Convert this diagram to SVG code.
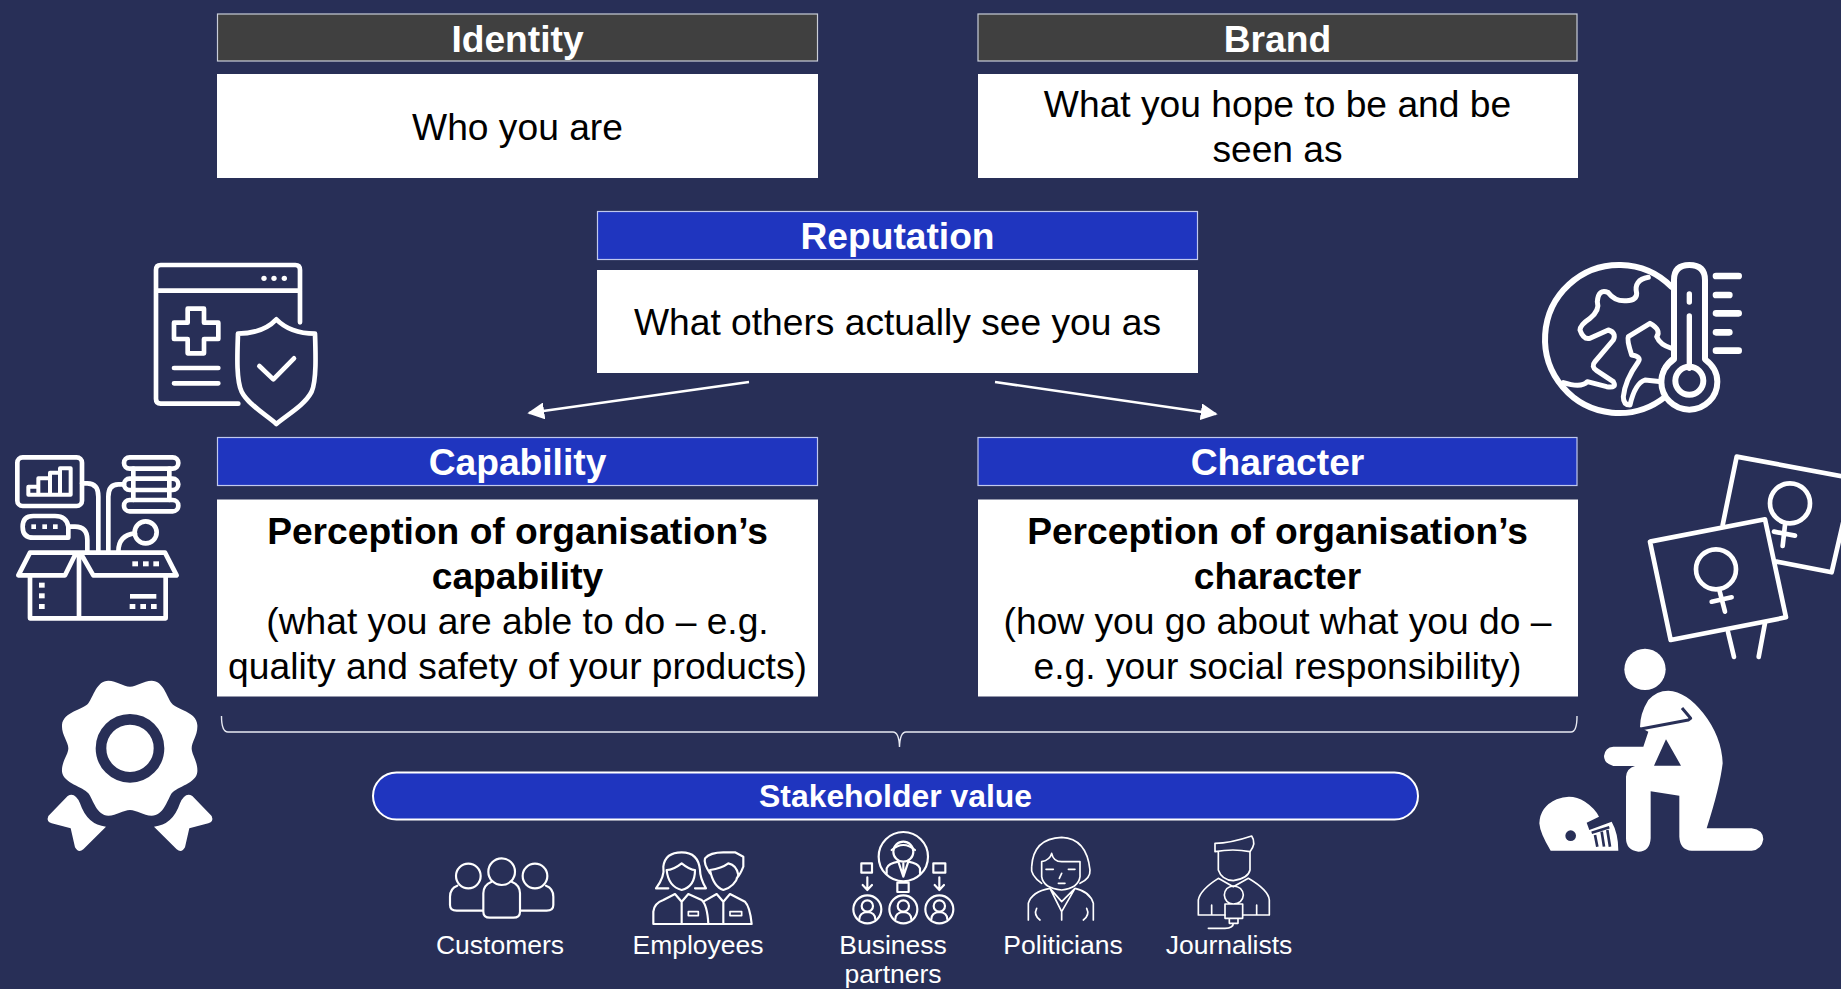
<svg xmlns="http://www.w3.org/2000/svg" width="1841" height="989" viewBox="0 0 1841 989">
<defs>
<style>
text{font-family:"Liberation Sans",Arial,sans-serif;text-anchor:middle}
.hd{font-size:37.200px;font-weight:700;fill:#fff}
.bd{font-size:37.200px;fill:#000}
.bb{font-size:37.200px;fill:#000;font-weight:700}
.lb{font-size:26.500px;fill:#fff}
.grey{fill:#404040;stroke:#c9cdd8;stroke-width:1.2}
.blue{fill:#1f35bf;stroke:#c0c8ee;stroke-width:1.2}
.wh{fill:#fff}
.ol{fill:none;stroke:#fff;stroke-linecap:round;stroke-linejoin:round}
.w14{stroke-width:14}
.w7{stroke-width:6.500}
.w5{stroke-width:5}
.fw{fill:#fff}
.fd{fill:#282f57}
</style>
<marker id="ah" viewBox="0 0 10 10" refX="9" refY="5" markerWidth="6.500" markerHeight="6.500" orient="auto"><path d="M0 0L10 5L0 10Z" fill="#fff"/></marker>
</defs>
<rect width="1841" height="989" fill="#282f57"/>

<g id="connectors">
<path d="M749 382L529 413" fill="none" stroke="#fff" stroke-width="2.600" marker-end="url(#ah)"/>
<path d="M995 382L1216 414" fill="none" stroke="#fff" stroke-width="2.600" marker-end="url(#ah)"/>
<path d="M221.500 716Q221.500 732 228 732H893Q899 732 899.500 747Q900 732 906 732H1571Q1577 732 1577 716" fill="none" stroke="#e8eaf2" stroke-width="1.400"/>
</g>

<g id="identity"><rect class="grey" x="217.500" y="14" width="600" height="47"/><text class="hd" x="517.500" y="52">Identity</text>
<rect class="wh" x="217" y="74" width="601" height="104"/><text class="bd" x="517.500" y="140">Who you are</text></g>
<g id="brand"><rect class="grey" x="978" y="14" width="599" height="47"/><text class="hd" x="1277.500" y="52">Brand</text>
<rect class="wh" x="978" y="74" width="600" height="104"/><text class="bd" x="1277.500" y="117">What you hope to be and be</text><text class="bd" x="1277.500" y="162">seen as</text></g>
<g id="reputation"><rect class="blue" x="597.500" y="211.500" width="600" height="48"/><text class="hd" x="897.500" y="249">Reputation</text>
<rect class="wh" x="597" y="270" width="601" height="103"/><text class="bd" x="897.500" y="335">What others actually see you as</text></g>
<g id="capability"><rect class="blue" x="217.500" y="437.500" width="600" height="48"/><text class="hd" x="517.500" y="475">Capability</text>
<rect class="wh" x="217" y="499.500" width="601" height="197"/>
<text class="bb" x="517.500" y="544">Perception of organisation’s</text><text class="bb" x="517.500" y="589">capability</text><text class="bd" x="517.500" y="634">(what you are able to do – e.g.</text><text class="bd" x="517.500" y="679">quality and safety of your products)</text></g>
<g id="character"><rect class="blue" x="978" y="437.500" width="599" height="48"/><text class="hd" x="1277.500" y="475">Character</text>
<rect class="wh" x="978" y="499.500" width="600" height="197"/>
<text class="bb" x="1277.500" y="544">Perception of organisation’s</text><text class="bb" x="1277.500" y="589">character</text><text class="bd" x="1277.500" y="634">(how you go about what you do –</text><text class="bd" x="1277.500" y="679">e.g. your social responsibility)</text></g>
<g id="stakeholder-value"><rect x="373" y="772.500" width="1045" height="47" rx="23.500" fill="#1f35bf" stroke="#fff" stroke-width="2"/><text x="895.500" y="807" style="font-size:31.900px;font-weight:700;fill:#fff">Stakeholder value</text></g>

<g id="icon-medical" transform="translate(0 240) scale(.33333)">
<path class="ol w14" d="M715 491H482Q468 491 468 477V90Q468 75 482 75H886Q900 75 900 90V247M468 152H900M522 384H655M522 430H655"/>
<circle class="fw" cx="792" cy="115" r="8"/><circle class="fw" cx="822" cy="115" r="8"/><circle class="fw" cx="853" cy="115" r="8"/>
<path class="ol w14" d="M563 206H612V248H655V297H612V340H563V297H522V248H563Z"/>
<path class="ol w14" d="M829 238Q790 280 714 281C712 340 708 420 725 455C745 495 800 525 829 552C860 525 915 495 935 455C950 420 947 340 945 281Q870 280 829 238Z"/>
<path class="ol w14" d="M778 378L820 418L882 355"/>
</g>

<g id="icon-box" transform="translate(0 240) scale(.33333)">
<rect class="ol w14" x="52" y="652" width="194" height="146" rx="16"/>
<path class="ol" stroke-width="12" d="M85 764V740H115V715H150V698H180V685H212V764ZM115 740V764M150 715V764M180 698V764"/>
<rect class="ol w14" x="372" y="652" width="163" height="34" rx="17"/><rect class="ol w14" x="372" y="716" width="163" height="34" rx="17"/><rect class="ol w14" x="372" y="780" width="163" height="34" rx="17"/>
<path class="ol w14" d="M400 686V780M508 686V780M246 730H262Q295 730 295 770V935M372 733H355Q325 733 325 770V935"/>
<path class="ol w14" d="M205 893H100Q68 893 68 860Q68 828 100 828H165Q200 828 205 860H225Q262 860 262 900V935M205 860V893"/>
<circle class="ol w14" cx="437" cy="877" r="33"/><path class="ol w14" d="M405 880Q355 885 355 935"/>
<path class="ol w14" d="M90 938H495L530 1006H280L245 945L237 938L225 945L195 1006H55ZM237 945V1133M90 1006V1135H497V1006"/>
<g class="fw"><rect x="397" y="964" width="17" height="15"/><rect x="429" y="964" width="17" height="15"/><rect x="460" y="964" width="17" height="15"/><rect x="117" y="1028" width="17" height="15"/><rect x="117" y="1060" width="17" height="15"/><rect x="117" y="1092" width="17" height="15"/><rect x="390" y="1062" width="79" height="14"/><rect x="389" y="1092" width="17" height="15"/><rect x="421" y="1092" width="17" height="15"/><rect x="453" y="1092" width="17" height="15"/>
<rect x="94" y="853" width="14" height="14"/><rect x="127" y="853" width="14" height="14"/><rect x="159" y="853" width="14" height="14"/></g>
</g>

<g id="icon-award" transform="translate(0 640) scale(.33333)">
<path class="fw" d="M325 122C350 122 370 140 390 140C410 140 430 122 455 122C490 122 500 170 515 190C530 210 590 215 592 255C594 285 575 305 575 325C575 345 594 365 592 395C590 430 530 440 515 460C500 485 490 527 455 527C430 527 410 510 390 510C370 510 350 527 325 527C290 527 280 480 265 460C250 440 190 430 186 395C184 365 205 345 205 325C205 305 184 285 186 255C190 215 250 210 265 190C280 170 290 122 325 122Z"/>
<circle cx="390" cy="325" r="87" fill="none" stroke="#282f57" stroke-width="32"/>
<path class="fw" d="M203 468L145 528Q138 545 155 550L212 565L225 622Q235 640 250 628L318 560Q262 555 240 490Q225 455 203 468Z"/>
<path class="fw" d="M577 468L635 528Q642 545 625 550L568 565L555 622Q545 640 530 628L462 560Q518 555 540 490Q555 455 577 468Z"/>
</g>

<g id="icon-globe" transform="translate(1500 240) scale(.33333)">
<path class="ol" stroke-width="18" d="M515 141A222 222 0 1 0 495 471"/>
<path class="ol" stroke-width="18" d="M522 358V120Q522 75 568 75Q615 75 615 120V358Q652 385 652 425A84 84 0 1 1 484 425Q484 385 522 358Z"/>
<circle class="ol" stroke-width="18" cx="568" cy="422" r="42"/>
<path class="ol" stroke-width="16" d="M568 228V385M568 162V186"/>
<path class="ol" stroke-width="20" d="M648 108H716M648 165H688M648 220H716M648 277H688M648 332H716"/>
<path class="ol" stroke-width="15" d="M445 112Q400 120 410 160Q410 182 380 182Q345 185 325 158Q295 145 292 185Q300 210 270 235Q240 255 240 270Q250 300 270 295L325 270Q350 278 340 300L285 365Q272 380 290 392L340 425Q352 445 320 440L262 425Q245 445 190 428"/>
<path class="ol" stroke-width="15" d="M515 325Q480 315 470 290Q485 270 450 250L385 290Q380 300 395 345Q425 350 415 365Q375 420 370 470Q370 495 390 495Q405 430 435 420L485 425M515 358Q490 380 488 400"/>
</g>

<g id="icon-signs" transform="translate(1500 240) scale(.33333)">
<path class="ol w14" d="M668 855L710 650L1060 715L995 997L830 965"/>
<circle class="ol w14" cx="870" cy="790" r="60"/><path class="ol w14" d="M855 855L848 918M822 875L885 887"/>
<path class="ol w14" d="M450 905L795 838L858 1132L512 1200Z"/>
<circle class="ol w14" cx="648" cy="988" r="60"/><path class="ol w14" d="M658 1050L675 1115M635 1085L695 1072"/>
<path class="ol w14" d="M684 1176L702 1251M795 1149L776 1251"/>
</g>

<g id="icon-kneeling" transform="translate(1500 620) scale(.33333)">
<circle class="fw" cx="435" cy="148" r="62"/>
<path class="fw" fill-rule="evenodd" d="M420 322Q420 280 445 240Q470 212 505 212Q560 215 610 280Q665 350 668 430Q660 500 620 625H755Q790 630 790 658Q785 690 755 692H575Q540 690 538 650V527L452 514V655Q450 695 415 695Q378 690 378 655V470Q380 445 405 438H340Q312 430 312 408Q315 382 340 380H430L445 335ZM498 358L462 437H543Z"/>
<path fill="none" stroke="#282f57" stroke-width="9" stroke-linejoin="round" d="M418 328L565 300L572 295L546 264"/>
<path class="fw" d="M152 692Q120 640 118 610Q120 560 170 538Q215 520 255 545Q285 565 297 590L260 608L268 630L335 605Q355 640 355 692Z"/>
<circle class="fd" cx="212" cy="647" r="16"/>
<path fill="none" stroke="#282f57" stroke-width="8" d="M275 638L328 622M285 645L292 680M305 635L312 680M322 630L330 680"/>
</g>

<g id="icon-customers" transform="translate(420 820) scale(.33333)">
<circle class="ol w7" cx="145" cy="168" r="37"/><circle class="ol w7" cx="245" cy="155" r="40"/><circle class="ol w7" cx="345" cy="168" r="37"/>
<path class="ol w7" d="M215 185Q190 195 190 220V275Q190 293 210 293H280Q300 293 300 275V220Q300 195 275 185M112 197Q90 205 90 230V255Q90 272 110 272H190M378 197Q400 205 400 230V255Q400 272 380 272H300"/>
</g>
<g id="icon-employees" transform="translate(420 820) scale(.33333)">
<path class="ol w7" d="M708 205Q735 170 730 140Q735 97 785 97Q835 97 840 150Q840 175 858 205H825M745 205H708M740 150Q760 150 785 130Q810 150 825 150Q825 200 785 210Q745 200 740 150Z"/>
<path class="ol w7" d="M700 312V275Q702 250 730 240L765 222L785 245L805 222L845 240Q862 255 865 312M700 312H995M785 245V312M850 245L890 222L910 245L930 222L975 245Q990 260 995 312M910 245V312"/>
<path class="ol w7" d="M870 160Q850 130 855 115Q870 97 910 97H945L970 110V140Q960 165 950 175M870 150Q905 145 925 130Q950 135 955 165Q945 200 910 210Q880 200 870 150Z"/>
<rect class="ol w5" x="805" y="275" width="30" height="12"/><rect class="ol w5" x="930" y="275" width="35" height="12"/>
</g>

<g id="icon-partners" transform="translate(820 820) scale(.33333)">
<circle class="ol w7" cx="250" cy="110" r="74"/>
<circle class="ol w7" cx="250" cy="95" r="30"/><path class="ol w7" d="M215 90Q250 60 285 90M200 160V145Q205 130 235 125L250 170L265 125Q295 130 300 145V160M250 130V170"/>
<g class="ol w7"><rect x="124" y="130" width="32" height="28"/><rect x="340" y="130" width="36" height="28"/><rect x="232" y="188" width="34" height="28"/>
<circle cx="142" cy="268" r="42"/><circle cx="250" cy="268" r="42"/><circle cx="358" cy="268" r="42"/>
<circle cx="142" cy="258" r="17"/><circle cx="250" cy="258" r="17"/><circle cx="358" cy="258" r="17"/>
<path d="M118 298Q118 278 142 276Q166 278 166 298M226 298Q226 278 250 276Q274 278 274 298M334 298Q334 278 358 276Q382 278 382 298"/></g>
<path class="ol w7" d="M142 172V208M128 195L142 210L156 195M358 172V208M344 195L358 210L372 195"/>
</g>

<g id="icon-politicians" transform="translate(820 820) scale(.33333)">
<path class="ol w5" d="M665 190Q630 165 635 140Q640 55 725 52Q800 55 810 150Q812 175 780 190M665 125V170Q670 205 725 210Q775 205 780 170V125H725Q700 125 695 100Q690 120 665 125Z"/>
<path class="ol w5" d="M625 300V250Q635 215 690 205L725 245L765 205Q810 215 820 250V300M690 205L725 275L765 205M725 275V300M650 265Q640 285 660 300M800 265Q810 285 790 300"/>
<path class="ol w5" d="M678 148H700M745 148H765M715 190H735M725 160L718 175"/>
</g>

<g id="icon-journalists" transform="translate(820 820) scale(.33333)">
<path class="ol w5" d="M1185 95V70Q1230 70 1295 48Q1310 70 1290 95Q1240 85 1185 95ZM1195 95V150Q1205 180 1240 182Q1285 175 1290 150V95"/>
<path class="ol w5" d="M1135 285V240Q1140 210 1195 175L1240 200L1285 175Q1345 210 1348 240V285H1270M1135 285H1215M1175 285V255M1310 285V255"/>
<path class="ol w5" d="M1213 225Q1215 200 1240 198Q1268 200 1270 225Q1268 250 1240 252Q1215 250 1213 225ZM1215 252H1268V295H1215ZM1228 295V310H1254V295M1240 310Q1240 325 1215 325H1165"/>
</g>

<g id="labels">
<text class="lb" x="500" y="954">Customers</text>
<text class="lb" x="698" y="954">Employees</text>
<text class="lb" x="893" y="954">Business</text>
<text class="lb" x="893" y="983">partners</text>
<text class="lb" x="1063" y="954">Politicians</text>
<text class="lb" x="1229" y="954">Journalists</text>
</g>
</svg>
